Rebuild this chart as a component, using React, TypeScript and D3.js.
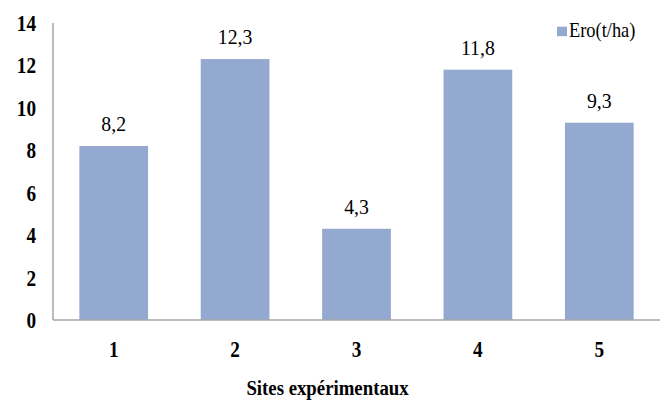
import React from "react";
import * as d3 from "d3";

const categories = ["1", "2", "3", "4", "5"];
const values = [8.2, 12.3, 4.3, 11.8, 9.3];
const valueLabels = ["8,2", "12,3", "4,3", "11,8", "9,3"];
const yTicks = [0, 2, 4, 6, 8, 10, 12, 14];
const seriesName = "Ero(t/ha)";
const xTitle = "Sites expérimentaux";

const W = 667;
const H = 400;
const left = 53;
const right = 660;
const top = 23;
const bottom = 320;
const barColor = "#93A9CF";
const axisColor = "#A6A6A6";
const serifFont = "Liberation Serif";

export default function App() {
  const x = d3.scaleBand<string>().domain(categories).range([left, right]).paddingInner(0.434).paddingOuter(0.217);
  const y = d3.scaleLinear().domain([0, 14]).range([bottom, top]);
  const ts: React.CSSProperties = { fontFamily: serifFont };

  return (
    <svg width={W} height={H} style={{ position: "absolute", left: 0, top: 0, background: "#fff" }}>
      <rect x={0} y={0} width={W} height={H} fill="#fff" />
      {categories.map((c, i) => (
        <rect key={c} x={x(c)} y={y(values[i])} width={x.bandwidth()} height={y(0) - y(values[i])} fill={barColor} />
      ))}
      <line x1={left} x2={left} y1={top} y2={bottom} stroke={axisColor} strokeWidth={1.5} />
      <line x1={left} x2={right} y1={bottom} y2={bottom} stroke={axisColor} strokeWidth={1.5} />
      {yTicks.map((t) => (
        <text key={t} style={ts} transform={`translate(36,${y(t) + 8}) scale(0.8,1)`} textAnchor="end" fontSize={24} fontWeight="bold" fill="#000">
          {t}
        </text>
      ))}
      {categories.map((c) => (
        <text key={c} style={ts} transform={`translate(${(x(c) as number) + x.bandwidth() / 2},356.5) scale(0.8,1)`} textAnchor="middle" fontSize={24} fontWeight="bold" fill="#000">
          {c}
        </text>
      ))}
      {categories.map((c, i) => (
        <text key={c} style={ts} transform={`translate(${(x(c) as number) + x.bandwidth() / 2},${y(values[i]) - 15}) scale(0.9,1)`} textAnchor="middle" fontSize={22} fill="#000">
          {valueLabels[i]}
        </text>
      ))}
      <text style={ts} transform={`translate(327.5,395) scale(0.94,1)`} textAnchor="middle" fontSize={20} fontWeight="bold" fill="#000">
        {xTitle}
      </text>
      <rect x={557} y={26.7} width={10} height={9.5} fill={barColor} />
      <text style={ts} transform="translate(569,36.5) scale(0.92,1)" fontSize={20} fill="#000">
        {seriesName}
      </text>
    </svg>
  );
}
